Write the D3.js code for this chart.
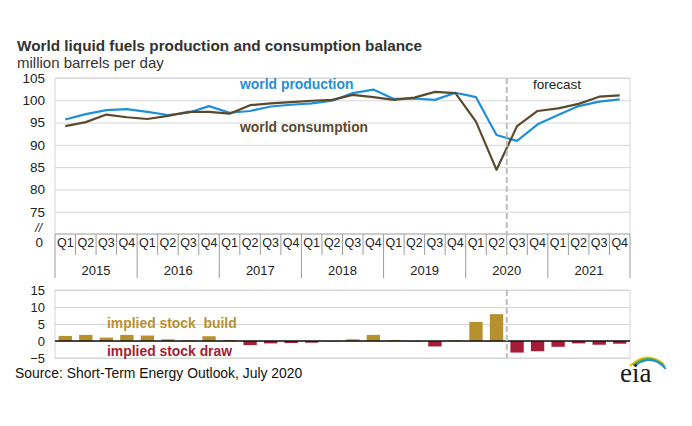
<!DOCTYPE html>
<html>
<head>
<meta charset="utf-8">
<script src="https://cdn.jsdelivr.net/npm/d3@7"></script>
<style>
  body { margin: 0; background: #fff; }
  svg { font-family: "Liberation Sans", Arial, sans-serif; }
</style>
</head>
<body>
<div class="chart"></div>
<script>
/* dados (milhoes de barris por dia) */
var years = [ "2015", "2016", "2017", "2018", "2019", "2020", "2021" ];
var quarters = [ "Q1", "Q2", "Q3", "Q4" ];

var production = [ 95.7, 96.9, 97.8, 98.0, 97.4, 96.7, 97.2, 98.7,
                   97.2, 97.6, 98.6, 99.0, 99.3, 99.9, 101.6, 102.4,
                   100.3, 100.4, 100.1, 101.7, 100.7, 92.2, 90.9, 94.6,
                   96.7, 98.7, 99.7, 100.2 ];

var consumption = [ 94.2, 95.1, 96.8, 96.2, 95.8, 96.5, 97.4, 97.4,
                    97.0, 98.9, 99.3, 99.6, 99.9, 100.1, 101.2, 100.7,
                    100.1, 100.6, 101.9, 101.6, 95.2, 84.4, 94.2, 97.6,
                    98.2, 99.2, 100.8, 101.1 ];

var stockChange = [ 1.5, 1.8, 1.0, 1.8, 1.6, 0.5, 0.2, 1.4,
                    0.3, -1.2, -0.7, -0.6, -0.5, -0.1, 0.5, 1.8,
                    0.3, -0.1, -1.6, 0.2, 5.6, 7.9, -3.4, -3.0,
                    -1.7, -0.7, -1.1, -0.8 ];

var topTicks = [ 75, 80, 85, 90, 95, 100, 105 ];
var bottomTicks = [ -5, 0, 5, 10, 15 ];
var forecastStart = "2020-Q3";

/* cores */
var COR_PROD = "#1f8fd6";
var COR_CONS = "#5a4a2c";
var COR_BUILD = "#b8912f";
var COR_DRAW = "#a51c38";
var COR_GRADE = "#d6d6d6";
var COR_TEXTO = "#222";

var svgDims = { width: 692, height: 426 };
var plot = { left: 55, right: 630 };
var top1 = { top: 78, bottom: 234 };
var bot1 = { top: 290, bottom: 358 };

//chaves dos trimestres
var keys = [];
years.forEach( function( y ){
	quarters.forEach( function( q ){ keys.push( y + "-" + q ); } );
});

var svg = d3.select( ".chart" )
			.append( "svg" )
			.attr( "width", svgDims.width )
			.attr( "height", svgDims.height );

//escalas
var xScale = d3.scaleBand().domain( keys ).range( [ plot.left, plot.right ] );
var xBars = d3.scaleBand().domain( keys ).range( [ plot.left, plot.right ] ).paddingInner( 0.35 ).paddingOuter( 0.175 );
var yScale = d3.scaleLinear().domain( [ 70, 105 ] ).range( [ top1.bottom, top1.top ] );
var yBar = d3.scaleLinear().domain( [ -5, 15 ] ).range( [ bot1.bottom, bot1.top ] );
var cx = function( i ){ return xScale( keys[ i ] ) + xScale.bandwidth() / 2; };

//titulos
svg.append( "text" ).attr( "x", 17 ).attr( "y", 51 )
	.style( "font-weight", "bold" ).style( "font-size", "15.3px" ).attr( "fill", "#333" )
	.text( "World liquid fuels production and consumption balance" );
svg.append( "text" ).attr( "x", 17 ).attr( "y", 68 )
	.style( "font-size", "15px" ).attr( "fill", "#333" )
	.text( "million barrels per day" );

/* grafico de cima */
var gTop = svg.append( "g" );

gTop.append( "g" )
	.attr( "transform", "translate(" + plot.left + ",0)" )
	.call( d3.axisLeft( yScale ).tickValues( topTicks ).tickSize( -( plot.right - plot.left ) ).tickFormat( "" ) )
	.call( function( g ){ g.select( ".domain" ).remove(); } )
	.selectAll( "line" ).attr( "stroke", COR_GRADE );

gTop.append( "g" )
	.attr( "transform", "translate(45,0)" )
	.call( d3.axisLeft( yScale ).tickValues( topTicks ).tickSize( 0 ).tickPadding( 0 ) )
	.call( function( g ){ g.select( ".domain" ).remove(); } )
	.selectAll( "text" ).style( "font-size", "13.5px" ).attr( "fill", COR_TEXTO ).attr( "font-family", null );

gTop.append( "text" ).attr( "x", 42 ).attr( "y", 232 ).attr( "text-anchor", "end" )
	.style( "font-size", "12px" ).style( "font-style", "italic" ).attr( "fill", COR_TEXTO ).text( "//" );
gTop.append( "text" ).attr( "x", 43 ).attr( "y", 247 ).attr( "text-anchor", "end" )
	.style( "font-size", "13.5px" ).attr( "fill", COR_TEXTO ).text( "0" );

//moldura
gTop.append( "path" )
	.attr( "d", "M" + plot.left + "," + top1.bottom + "V" + top1.top + "H" + plot.right + "V" + top1.bottom )
	.attr( "fill", "none" ).attr( "stroke", COR_GRADE );

//eixo de categorias
var gCat = svg.append( "g" );
gCat.append( "line" )
	.attr( "x1", plot.left ).attr( "x2", plot.right )
	.attr( "y1", top1.bottom ).attr( "y2", top1.bottom )
	.attr( "stroke", "#9a9a9a" );

keys.forEach( function( k, i ){
	var x0 = xScale( k );
	var isYear = ( i % 4 === 0 );
	gCat.append( "line" )
		.attr( "x1", x0 ).attr( "x2", x0 )
		.attr( "y1", top1.bottom ).attr( "y2", isYear ? 278 : 255 )
		.attr( "stroke", "#9a9a9a" );
	gCat.append( "text" )
		.attr( "x", cx( i ) ).attr( "y", 247 ).attr( "text-anchor", "middle" )
		.style( "font-size", "12.5px" ).attr( "fill", COR_TEXTO )
		.text( k.split( "-" )[ 1 ] );
});
gCat.append( "line" )
	.attr( "x1", plot.right ).attr( "x2", plot.right )
	.attr( "y1", top1.bottom ).attr( "y2", 278 )
	.attr( "stroke", "#9a9a9a" );

years.forEach( function( y ){
	var xa = xScale( y + "-Q1" ), xb = xScale( y + "-Q4" ) + xScale.bandwidth();
	gCat.append( "text" )
		.attr( "x", ( xa + xb ) / 2 ).attr( "y", 275 ).attr( "text-anchor", "middle" )
		.style( "font-size", "13px" ).attr( "fill", COR_TEXTO )
		.text( y );
});

//linhas
var line = d3.line().x( function( d, i ){ return cx( i ); } ).y( function( d ){ return yScale( d ); } );

gTop.append( "path" ).datum( production )
	.attr( "d", line ).attr( "fill", "none" )
	.attr( "stroke", COR_PROD ).attr( "stroke-width", 2.2 ).attr( "stroke-linejoin", "round" );
gTop.append( "path" ).datum( consumption )
	.attr( "d", line ).attr( "fill", "none" )
	.attr( "stroke", COR_CONS ).attr( "stroke-width", 2.2 ).attr( "stroke-linejoin", "round" );

gTop.append( "text" ).attr( "x", 240 ).attr( "y", 89 )
	.style( "font-weight", "bold" ).style( "font-size", "13.9px" ).attr( "fill", COR_PROD )
	.text( "world production" );
gTop.append( "text" ).attr( "x", 240 ).attr( "y", 132 )
	.style( "font-weight", "bold" ).style( "font-size", "13.9px" ).attr( "fill", COR_CONS )
	.text( "world consumption" );
gTop.append( "text" ).attr( "x", 533 ).attr( "y", 89 )
	.style( "font-size", "13.5px" ).attr( "fill", COR_TEXTO )
	.text( "forecast" );

/* grafico de baixo */
var gBot = svg.append( "g" );

gBot.append( "g" )
	.attr( "transform", "translate(" + plot.left + ",0)" )
	.call( d3.axisLeft( yBar ).tickValues( bottomTicks ).tickSize( -( plot.right - plot.left ) ).tickFormat( "" ) )
	.call( function( g ){ g.select( ".domain" ).remove(); } )
	.selectAll( "line" ).attr( "stroke", COR_GRADE );

gBot.append( "rect" )
	.attr( "x", plot.left ).attr( "y", bot1.top )
	.attr( "width", plot.right - plot.left ).attr( "height", bot1.bottom - bot1.top )
	.attr( "fill", "none" ).attr( "stroke", COR_GRADE );

gBot.append( "g" )
	.attr( "transform", "translate(45,0)" )
	.call( d3.axisLeft( yBar ).tickValues( bottomTicks ).tickSize( 0 ).tickPadding( 0 ).tickFormat( d3.format( "d" ) ) )
	.call( function( g ){ g.select( ".domain" ).remove(); } )
	.selectAll( "text" ).style( "font-size", "13px" ).attr( "fill", COR_TEXTO ).attr( "font-family", null );

gBot.selectAll( "rect.bar" )
	.data( stockChange )
	.enter().append( "rect" )
	.attr( "class", "bar" )
	.attr( "x", function( d, i ){ return xBars( keys[ i ] ); } )
	.attr( "width", xBars.bandwidth() )
	.attr( "y", function( d ){ return yBar( Math.max( 0, d ) ); } )
	.attr( "height", function( d ){ return Math.abs( yBar( d ) - yBar( 0 ) ); } )
	.attr( "fill", function( d ){ return d >= 0 ? COR_BUILD : COR_DRAW; } );

gBot.append( "line" )
	.attr( "x1", plot.left ).attr( "x2", plot.right )
	.attr( "y1", yBar( 0 ) ).attr( "y2", yBar( 0 ) )
	.attr( "stroke", "#111" ).attr( "stroke-width", 1.5 );

gBot.append( "text" ).attr( "x", 107 ).attr( "y", 328 )
	.style( "font-weight", "bold" ).style( "font-size", "13.9px" ).attr( "fill", COR_BUILD )
	.style( "white-space", "pre" )
	.text( "implied stock  build" );
gBot.append( "text" ).attr( "x", 107 ).attr( "y", 356 )
	.style( "font-weight", "bold" ).style( "font-size", "13.9px" ).attr( "fill", COR_DRAW )
	.text( "implied stock draw" );

//linha da previsao
var xf = xScale( forecastStart );
[ [ top1.top, top1.bottom ], [ bot1.top, bot1.bottom ] ].forEach( function( r ){
	svg.append( "line" )
		.attr( "x1", xf ).attr( "x2", xf ).attr( "y1", r[ 0 ] ).attr( "y2", r[ 1 ] )
		.attr( "stroke", "#bdbdbd" ).attr( "stroke-width", 2 ).attr( "stroke-dasharray", "6,3" );
});

//fonte
svg.append( "text" ).attr( "x", 15 ).attr( "y", 378 )
	.style( "font-size", "13.9px" ).attr( "fill", "#111" )
	.text( "Source: Short-Term Energy Outlook, July 2020" );

//logo eia
var logo = svg.append( "g" ).attr( "transform", "translate(620,352)" );
[ [ "#f2c200", 0 ], [ "#5bb04a", 3 ], [ "#1f8fd6", 6 ] ].forEach( function( a ){
	logo.append( "path" )
		.attr( "d", "M" + ( 10 + a[ 1 ] ) + "," + ( 14 - a[ 1 ] * 0.2 ) + " Q" + ( 26 + a[ 1 ] ) + "," + ( -2 + a[ 1 ] * 0.6 ) + " " + ( 44 + a[ 1 ] * 0.3 ) + "," + ( 12 + a[ 1 ] * 0.8 ) )
		.attr( "fill", "none" ).attr( "stroke", a[ 0 ] ).attr( "stroke-width", 2 );
});
logo.append( "text" ).attr( "x", 0 ).attr( "y", 30 )
	.style( "font-family", "'Liberation Serif', 'DejaVu Serif', serif" ).style( "font-size", "27px" )
	.attr( "fill", "#1a1a1a" ).text( "eia" );
</script>
</body>
</html>
